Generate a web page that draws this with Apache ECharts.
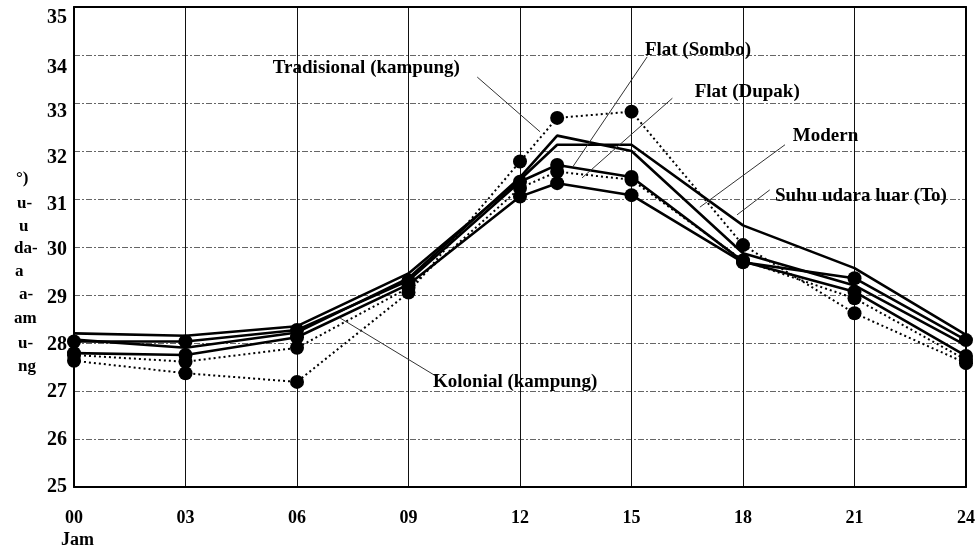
<!DOCTYPE html>
<html>
<head>
<meta charset="utf-8">
<script src="https://cdn.jsdelivr.net/npm/echarts@6/dist/echarts.min.js"></script>
<style>
  html, body { margin: 0; padding: 0; background: #fff; }
  #chart { width: 979px; height: 551px; }
</style>
</head>
<body>
<div id="chart"></div>
<script>
// jam pengukuran
var hours = [0, 3, 6, 9, 12, 13, 15, 18, 21, 24];

// suhu (°C) per seri
var suhuLuar    = [28.2, 28.15, 28.35, 29.45, 31.4, 32.13, 32.13, 30.45, 29.56, 28.17];
var modern      = [28.07, 27.9, 28.22, 29.35, 31.45, 32.32, 32.0, 29.87, 29.2, 27.95];
var flatSombo   = [28.03, 28.03, 28.27, 29.3, 31.36, 31.71, 31.46, 29.7, 29.07, 27.73];
var flatDupak   = [27.75, 27.61, 27.9, 29.15, 31.23, 31.57, 31.4, 29.72, 28.93, 27.65];
var kolonial    = [27.79, 27.75, 28.12, 29.22, 31.05, 31.33, 31.08, 29.68, 29.35, 28.06];
var tradisional = [27.63, 27.37, 27.19, 29.05, 31.78, 32.69, 32.82, 30.04, 28.62, 27.58];

// label di dalam grafik: teks, posisi teks [jam, suhu], garis penunjuk dari -> ke
var labelNames = ['Tradisional (kampung)', 'Flat (Sombo)', 'Flat (Dupak)', 'Modern', 'Suhu udara luar (To)', 'Kolonial (kampung)'];
var labelPos   = [[5.35, 33.73], [15.36, 34.1], [16.7, 33.23], [19.34, 32.31], [18.86, 31.06], [9.66, 27.19]];
var leaderFrom = [[10.85, 33.54], [15.42, 33.96], [16.1, 33.1], [19.13, 32.13], [18.72, 31.19], [9.74, 27.31]];
var leaderTo   = [[12.54, 32.4], [13.42, 31.67], [13.67, 31.44], [16.84, 30.83], [17.84, 30.67], [7.16, 28.52]];

// potongan judul sumbu y (hasil scan)
var yTitleParts = ['°)', 'u-', 'u', 'da-', 'a', 'a-', 'am', 'u-', 'ng'];
var yTitleX     = [16, 17, 19, 14, 15, 19, 14, 18, 18];
var yTitleY     = [180, 205, 228, 250, 273, 296, 320, 345, 368];

// geseran label sumbu y ke bawah (px), untuk 25..35, seperti di scan
var yLabelShift = [0, 1, 1, 2, 3, 3, 6, 7, 9, 13, 11];

var serif = '"Liberation Serif", "DejaVu Serif", serif';

function pairs(vals) {
  return hours.map(function (h, i) { return [h, vals[i]]; });
}

function lineSeries(name, vals, dotted, marker) {
  return {
    name: name,
    type: 'line',
    data: pairs(vals),
    symbol: marker ? 'circle' : 'none',
    symbolSize: 14,
    itemStyle: { color: '#000' },
    lineStyle: {
      color: '#000',
      width: dotted ? 2 : 2.6,
      type: dotted ? [2, 3] : 'solid'
    },
    z: dotted ? 3 : 4
  };
}

var yRich = {};
yLabelShift.forEach(function (d, i) {
  yRich['s' + i] = {
    padding: [2 * d, 0, 0, 0],
    color: '#000',
    fontFamily: serif,
    fontWeight: 'bold',
    fontSize: 20
  };
});

// sumbu bingkai (atas & kanan), tanpa label
var frameAxis = {
  axisLine: { show: true, onZero: false, lineStyle: { color: '#000', width: 2 } },
  axisTick: { show: false },
  axisLabel: { show: false },
  splitLine: { show: false }
};

var chart = echarts.init(document.getElementById('chart'));

var graphics = yTitleParts.map(function (t, i) {
  return {
    type: 'text',
    left: yTitleX[i],
    top: yTitleY[i] - 10,
    style: { text: t, font: 'bold 17px ' + serif, fill: '#000' }
  };
});
graphics.push({
  type: 'text',
  left: 61,
  top: 531,
  style: { text: 'Jam', font: 'bold 18px ' + serif, fill: '#000' }
});

var option = {
  animation: false,
  backgroundColor: '#fff',
  grid: {
    left: 74, right: 13, top: 7, bottom: 64
  },
  xAxis: [{
    type: 'value',
    min: 0, max: 24, interval: 3,
    axisLine: { show: true, onZero: false, lineStyle: { color: '#000', width: 2 } },
    axisTick: { show: false },
    splitLine: { show: true, lineStyle: { color: '#111', width: 1 } },
    axisLabel: {
      margin: 22,
      color: '#000',
      fontFamily: serif,
      fontWeight: 'bold',
      fontSize: 18,
      formatter: function (v) { return (v < 10 ? '0' : '') + v; }
    }
  }, Object.assign({ type: 'value', position: 'top', min: 0, max: 24 }, frameAxis)],
  yAxis: [{
    type: 'value',
    min: 25, max: 35, interval: 1,
    axisLine: { show: true, onZero: false, lineStyle: { color: '#000', width: 2 } },
    axisTick: { show: false },
    splitLine: { show: true, lineStyle: { color: '#666', width: 1, type: [6, 2, 2, 2] } },
    axisLabel: {
      margin: 7,
      color: '#000',
      fontFamily: serif,
      fontWeight: 'bold',
      fontSize: 20,
      formatter: function (v) {
        var i = Math.round(v - 25);
        return '{s' + i + '|' + v + '}';
      },
      rich: yRich
    }
  }, Object.assign({ type: 'value', position: 'right', min: 25, max: 35 }, frameAxis)],
  graphic: graphics,
  series: [
    lineSeries('Suhu udara luar (To)', suhuLuar, false, false),
    lineSeries('Modern', modern, false, false),
    lineSeries('Flat (Sombo)', flatSombo, false, true),
    lineSeries('Flat (Dupak)', flatDupak, true, true),
    lineSeries('Kolonial (kampung)', kolonial, false, true),
    lineSeries('Tradisional (kampung)', tradisional, true, true),
    {
      type: 'scatter',
      silent: true,
      symbolSize: 0,
      itemStyle: { opacity: 1, color: '#000' },
      data: labelPos.map(function (p, i) { return { value: p, name: labelNames[i] }; }),
      label: {
        show: true,
        position: 'right',
        distance: 0,
        formatter: function (p) { return p.name; },
        color: '#000',
        fontFamily: serif,
        fontWeight: 'bold',
        fontSize: 19
      },
      markLine: {
        silent: true,
        symbol: ['none', 'none'],
        label: { show: false },
        lineStyle: { color: '#333', width: 1, type: 'solid' },
        data: leaderFrom.map(function (f, i) {
          return [{ coord: f }, { coord: leaderTo[i] }];
        })
      },
      z: 5
    }
  ]
};

chart.setOption(option);
</script>
</body>
</html>
